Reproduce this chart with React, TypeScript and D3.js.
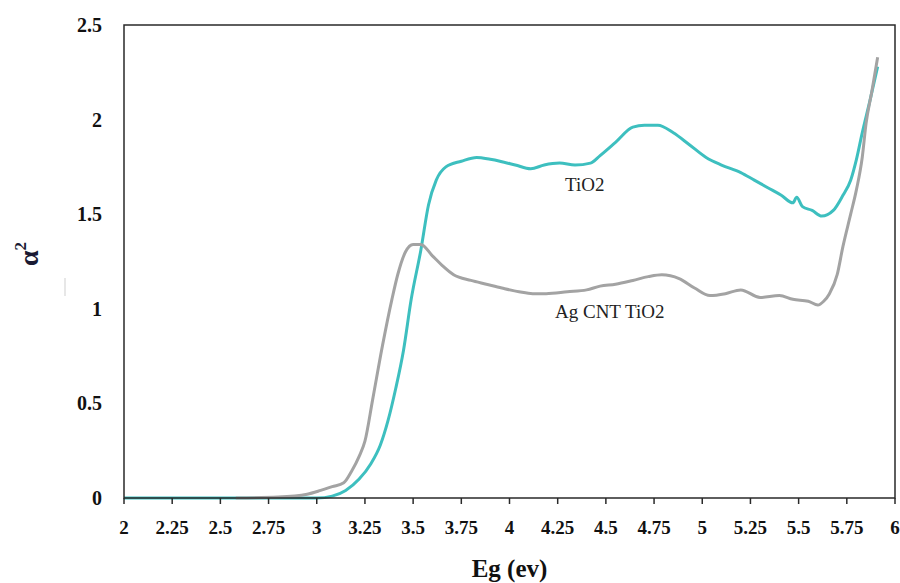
import React from "react";
import * as d3 from "d3";

const xTicks = [2, 2.25, 2.5, 2.75, 3, 3.25, 3.5, 3.75, 4, 4.25, 4.5, 4.75, 5, 5.25, 5.5, 5.75, 6];
const yTicks = [0, 0.5, 1, 1.5, 2, 2.5];

const tio2X = [2.0, 2.5, 3.0, 3.08, 3.15, 3.22, 3.28, 3.33, 3.37, 3.41, 3.45, 3.49, 3.54, 3.58, 3.62, 3.67, 3.75, 3.83, 3.9, 3.95, 4.03, 4.11, 4.18, 4.26, 4.34, 4.42, 4.47, 4.55, 4.64, 4.7, 4.77, 4.85, 4.93, 5.02, 5.1, 5.2, 5.27, 5.34, 5.41, 5.47, 5.49, 5.52, 5.57, 5.62, 5.68, 5.73, 5.77, 5.8, 5.83, 5.87, 5.91];
const tio2Y = [0, 0, 0, 0.01, 0.04, 0.1, 0.18, 0.28, 0.41, 0.58, 0.78, 1.05, 1.31, 1.55, 1.68, 1.75, 1.78, 1.8, 1.79, 1.78, 1.76, 1.74, 1.76, 1.77, 1.76, 1.77, 1.81, 1.88, 1.96, 1.97, 1.97, 1.93, 1.87, 1.8, 1.76, 1.72, 1.68, 1.64, 1.6, 1.56, 1.59, 1.54, 1.52, 1.49, 1.52, 1.6, 1.68, 1.79, 1.93, 2.1, 2.28];

const agX = [2.58, 2.8, 2.95, 3.02, 3.08, 3.14, 3.18, 3.22, 3.25, 3.29, 3.34, 3.39, 3.42, 3.46, 3.5, 3.54, 3.6, 3.65, 3.71, 3.8, 3.88, 3.96, 4.05, 4.12, 4.19, 4.3, 4.4, 4.47, 4.55, 4.64, 4.72, 4.79, 4.88, 4.96, 5.04, 5.12, 5.2, 5.3, 5.4, 5.47, 5.55, 5.6, 5.63, 5.66, 5.7, 5.73, 5.77, 5.8, 5.83, 5.85, 5.88, 5.91];
const agY = [0, 0.005, 0.02, 0.04, 0.06, 0.08, 0.14, 0.22, 0.3, 0.52, 0.8, 1.05, 1.18, 1.3, 1.34, 1.34, 1.28, 1.23, 1.18, 1.15, 1.13, 1.11, 1.09, 1.08, 1.08, 1.09, 1.1, 1.12, 1.13, 1.15, 1.17, 1.18, 1.16, 1.11, 1.07, 1.08, 1.1, 1.06, 1.07, 1.05, 1.04, 1.02, 1.04, 1.08, 1.18, 1.33, 1.5, 1.63, 1.8, 1.98, 2.15, 2.33];

const seriesLabels = [
  { text: "TiO2", x: 4.39, y: 1.62 },
  { text: "Ag CNT TiO2", x: 4.52, y: 0.95 },
];

const W = 900;
const H = 583;
const left = 124;
const right = 895;
const top = 25;
const bottom = 498;

export default function App() {
  const x = d3.scaleLinear().domain([2, 6]).range([left, right]);
  const y = d3.scaleLinear().domain([0, 2.5]).range([bottom, top]);
  const line = d3
    .line<[number, number]>()
    .x((d) => x(d[0]))
    .y((d) => y(d[1]))
    .curve(d3.curveMonotoneX);
  const tio2 = tio2X.map((v, i) => [v, tio2Y[i]] as [number, number]);
  const ag = agX.map((v, i) => [v, agY[i]] as [number, number]);
  const font = "'Liberation Serif', 'Times New Roman', serif";

  return (
    <svg width={W} height={H} style={{ position: "absolute", left: 0, top: 0, background: "#fff" }}>
      <path d={line(tio2) || ""} fill="none" stroke="#3dbfbf" strokeWidth={3} strokeLinejoin="round" />
      <path d={line(ag) || ""} fill="none" stroke="#a3a3a3" strokeWidth={3} strokeLinejoin="round" />
      <path
        d={`M${left},${bottom}V${top}H${right}V${bottom}Z`}
        fill="none"
        stroke="#2a2a2a"
        strokeWidth={1.5}
      />
      {xTicks.map((t) => (
        <g key={"x" + t}>
          <line x1={x(t)} x2={x(t)} y1={bottom} y2={bottom + 6} stroke="#2a2a2a" strokeWidth={1.5} />
          <text
            x={x(t)}
            y={bottom + 36}
            textAnchor="middle"
            fontFamily={font}
            fontWeight="bold"
            fontSize={19}
            fill="#111"
          >
            {t}
          </text>
        </g>
      ))}
      {yTicks.map((t) => (
        <text
          key={"y" + t}
          x={102}
          y={y(t)}
          dy="0.35em"
          textAnchor="end"
          fontFamily={font}
          fontWeight="bold"
          fontSize={20}
          fill="#111"
        >
          {t}
        </text>
      ))}
      <line x1={65} x2={65} y1={278} y2={296} stroke="#cfcfcf" strokeWidth={1} />
      <text
        transform={`translate(38,254) rotate(-90)`}
        textAnchor="middle"
        fontFamily={font}
        fontWeight="bold"
        fontSize={28}
        fill="#1a1a33"
      >
        α<tspan fontSize={17} dy={-12}>2</tspan>
      </text>
      <text
        x={(left + right) / 2}
        y={577}
        textAnchor="middle"
        fontFamily={font}
        fontWeight="bold"
        fontSize={25}
        fill="#111"
      >
        Eg (ev)
      </text>
      {seriesLabels.map((l) => (
        <text
          key={l.text}
          x={x(l.x)}
          y={y(l.y)}
          textAnchor="middle"
          fontFamily={font}
          fontSize={19}
          fill="#222"
        >
          {l.text}
        </text>
      ))}
    </svg>
  );
}
